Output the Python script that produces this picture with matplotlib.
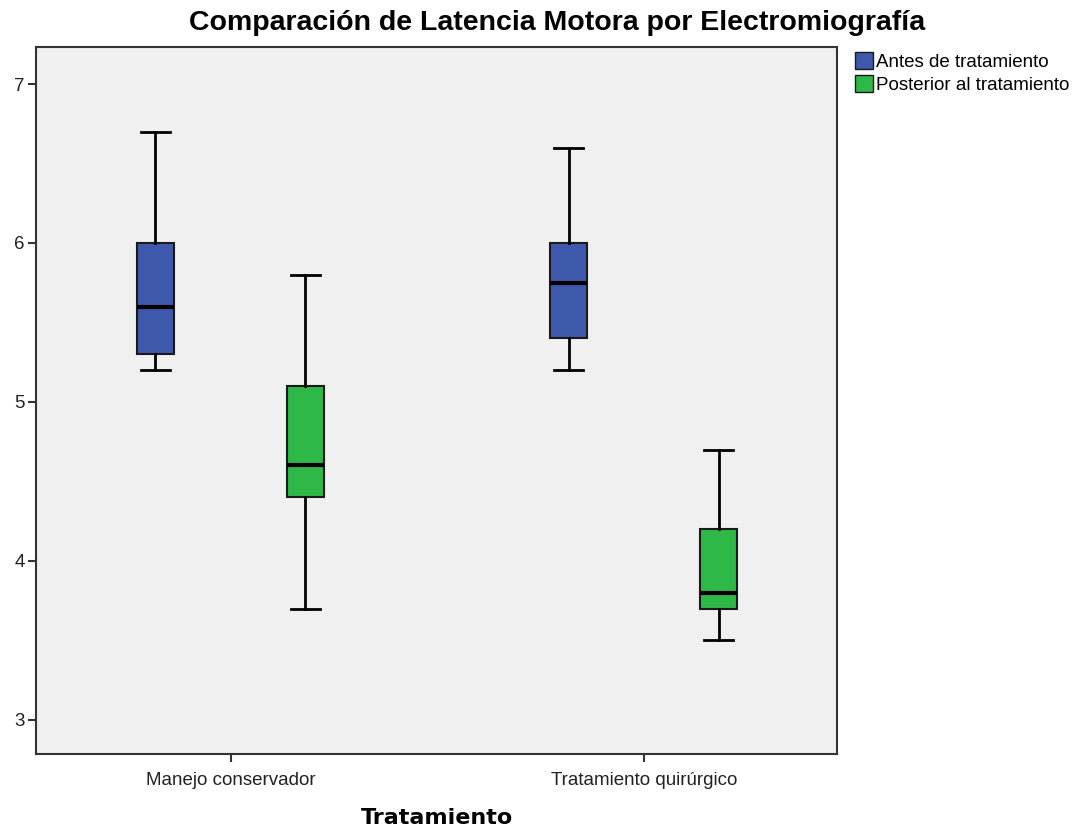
import matplotlib
matplotlib.use("Agg")
import matplotlib.pyplot as plt
from matplotlib.patches import Patch

plt.rcParams['font.family'] = ['Liberation Sans', 'DejaVu Sans']

categories = ["Manejo conservador", "Tratamiento quirúrgico"]
series = ["Antes de tratamiento", "Posterior al tratamiento"]
colors = ["#3e58ac", "#2eb848"]

# [whislo, q1, med, q3, whishi] per category
antes = [[5.2, 5.3, 5.6, 6.0, 6.7], [5.2, 5.4, 5.75, 6.0, 6.6]]
posterior = [[3.7, 4.4, 4.6, 5.1, 5.8], [3.5, 3.7, 3.8, 4.2, 4.7]]
data = [antes, posterior]

fig = plt.figure(figsize=(10.81, 8.30), dpi=100)
ax = fig.add_axes([0.0333, 0.0916, 0.7410, 0.8518])
ax.set_facecolor("#f0f0f0")

offsets = [-0.183, 0.18]
for s, (vals, col, off) in enumerate(zip(data, colors, offsets)):
    stats = []
    for v in vals:
        stats.append(dict(whislo=v[0], q1=v[1], med=v[2], q3=v[3], whishi=v[4], fliers=[]))
    pos = [i + off for i in range(len(categories))]
    ax.bxp(stats, positions=pos, widths=0.09, patch_artist=True, showfliers=False,
           boxprops=dict(facecolor=col, edgecolor="#1a1a1a", linewidth=1.5),
           medianprops=dict(color="black", linewidth=3),
           whiskerprops=dict(color="black", linewidth=2),
           capprops=dict(color="black", linewidth=2),
           capwidths=0.07, manage_ticks=False)

ax.set_xlim(-0.472, 1.466)
ax.set_ylim(2.785, 7.233)
ax.set_xticks(range(len(categories)))
ax.set_xticklabels(categories, fontsize=13.5)
ax.set_yticks([3, 4, 5, 6, 7])
ax.set_yticklabels(["3", "4", "5", "6", "7"], fontsize=13.5)
ax.tick_params(axis='both', length=6, width=1.5, color="#333333", labelcolor="#222222")
ax.tick_params(axis='x', pad=7)
ax.tick_params(axis='y', pad=2)
for sp in ax.spines.values():
    sp.set_linewidth(1.5)
    sp.set_color("#333333")

ax.set_xlabel("Tratamiento", fontsize=16, fontweight="bold", labelpad=14,
              family="DejaVu Sans")
fig.suptitle("Comparación de Latencia Motora por Electromiografía", fontsize=20.5,
             fontweight="bold", x=0.515, y=0.988)

handles = [Patch(facecolor=c, edgecolor="#1a1a1a", linewidth=1) for c in colors]
fig.legend(handles, series, loc="upper left", bbox_to_anchor=(0.791, 0.937),
           frameon=False, fontsize=13.5, handlelength=0.95, handleheight=1.0,
           handletextpad=0.15, labelspacing=0.2, borderpad=0, borderaxespad=0)

fig.savefig("out.png", dpi=100, facecolor="white")
